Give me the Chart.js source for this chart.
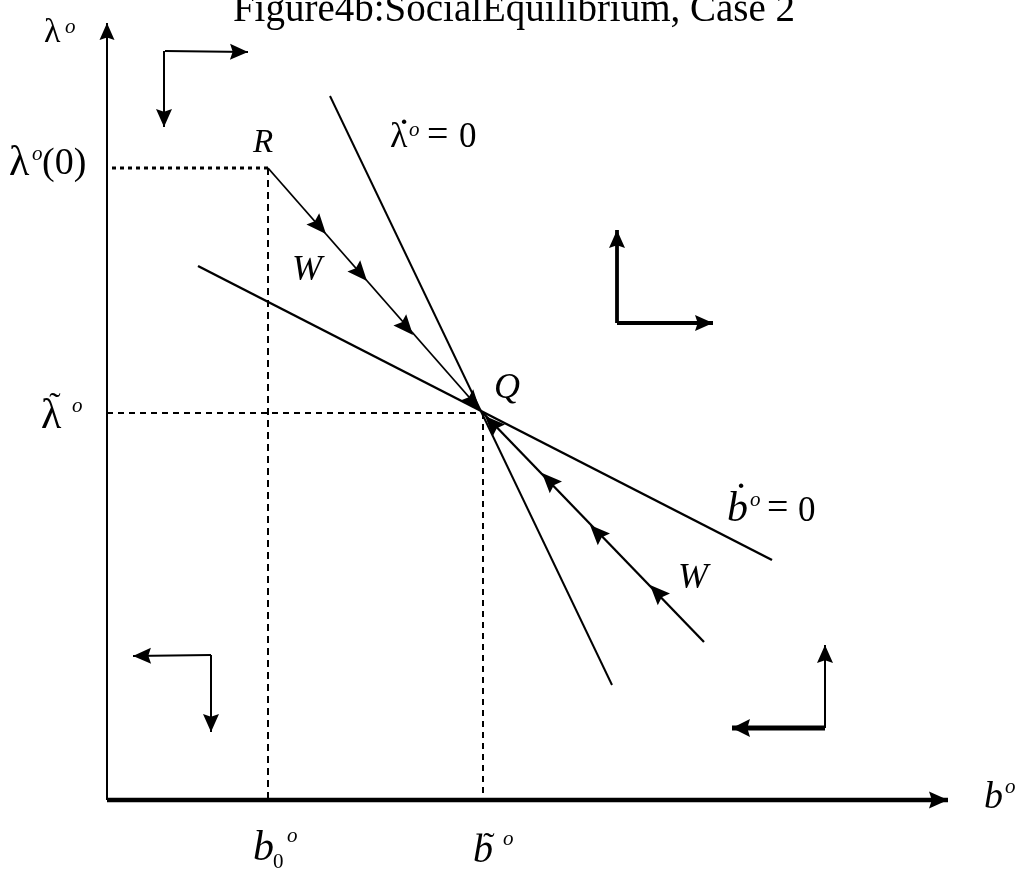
<!DOCTYPE html>
<html><head><meta charset="utf-8">
<script src="https://cdn.jsdelivr.net/npm/chart.js@4"></script>
<style>html,body{margin:0;padding:0;background:#fff;overflow:hidden}canvas{display:block}</style>
</head><body>
<canvas id="c" width="1019" height="875"></canvas>
<script>
// ---- diagram data (units: origin at the axes' intersection, y upwards) ----
const axisB = [[0,0],[841,0]];
const axisLambda = [[0,0],[0,777]];
const lambdaDotZero = [[223,704],[505,115]];
const bDotZero = [[91,534],[665,240]];
const saddleUpper = [[161,632],[376,387]];
const saddleLower = [[597,158],[376,387]];
const guideLambda0 = [[5,632],[161,632]];
const guideB0 = [[161,632],[161,0]];
const guideQh = [[0,387],[376,387]];
const guideQv = [[376,387],[376,0]];
const saddleUpperTips = [[219,566],[260,519],[306,465],[373,390]];
const saddleLowerTips = [[378,384],[435,327],[483,275],[543,215]];
// phase arrows: [corner, tip]
const phaseTLright = [[58,749],[141,748]];
const phaseTLdown = [[57,749],[57,673]];
const phaseMRup = [[510,477],[510,570]];
const phaseMRright = [[510,477],[606,477]];
const phaseBLleft = [[104,145],[26,144]];
const phaseBLdown = [[104,145],[104,68]];
const phaseBRup = [[718,72],[718,155]];
const phaseBRleft = [[718,72],[625,72]];

const titleText = 'Figure4b:SocialEquilibrium, Case 2';

const pts = a => a.map(p => ({x:p[0], y:p[1]}));
const SERIF = "'Liberation Serif','Times New Roman',serif";

function lineDs(arr, w, opts={}) {
  return Object.assign({type:'scatter', data:pts(arr), showLine:true, borderColor:'#000',
    backgroundColor:'#000', borderWidth:w, pointRadius:0, fill:false, tension:0,
    borderCapStyle:'butt', borderJoinStyle:'miter'}, opts);
}

const datasets = [
  lineDs(axisLambda, 2, {head:{len:17, hw:7.5}}),
  lineDs(axisB, 4.5, {head:{len:19, hw:8.5}}),
  lineDs(lambdaDotZero, 2),
  lineDs(bDotZero, 2.5),
  lineDs(saddleUpper, 1.8),
  lineDs(saddleLower, 2.3),
  lineDs(guideLambda0, 3.2, {borderDash:[4,4]}),
  lineDs(guideB0, 2, {borderDash:[7,5]}),
  lineDs(guideQh, 2, {borderDash:[6,5]}),
  lineDs(guideQv, 2, {borderDash:[6,5]}),
  lineDs(phaseTLright, 2, {head:{len:18, hw:8}}),
  lineDs(phaseTLdown, 2, {head:{len:18, hw:8}}),
  lineDs(phaseMRup, 3.8, {head:{len:18, hw:8}}),
  lineDs(phaseMRright, 3.8, {head:{len:18, hw:8}}),
  lineDs(phaseBLleft, 2, {head:{len:18, hw:8}}),
  lineDs(phaseBLdown, 2, {head:{len:18, hw:8}}),
  lineDs(phaseBRup, 2, {head:{len:18, hw:8}}),
  lineDs(phaseBRleft, 5, {head:{len:18, hw:9}}),
  {type:'scatter', data:pts(saddleUpperTips), pointRadius:0, showLine:false, tipsAlong:saddleUpper, tipHead:{len:20, hw:8.5}},
  {type:'scatter', data:pts(saddleLowerTips), pointRadius:0, showLine:false, tipsAlong:saddleLower, tipHead:{len:20, hw:8.5}}
];

// text items: position in diagram units
const labels = [
  {t:titleText, x:407, y:779, f:"39px "+SERIF, a:'center'},
  {t:'λ', x:-63, y:758, f:"34px "+SERIF},
  {t:'o', x:-42, y:767, f:"italic 21px "+SERIF},
  {t:'λ', x:-98, y:625, f:"42px "+SERIF},
  {t:'o', x:-75, y:640, f:"italic 21px "+SERIF},
  {t:'(0)', x:-65, y:626, f:"38px "+SERIF},
  {t:'R', x:146, y:648, f:"italic 33px "+SERIF},
  {t:'λ', x:283, y:653, f:"36px "+SERIF},
  {t:'·', x:297, y:666, f:"38px "+SERIF, a:'center'},
  {t:'o', x:302, y:664, f:"italic 21px "+SERIF},
  {t:'=', x:320, y:654, f:"38px "+SERIF},
  {t:'0', x:352, y:653, f:"35px "+SERIF},
  {t:'W', x:185, y:520, f:"italic 36px "+SERIF},
  {t:'Q', x:387, y:402, f:"italic 36px "+SERIF},
  {t:'λ', x:-66, y:372, f:"42px "+SERIF},
  {t:'˜', x:-52, y:384, f:"34px "+SERIF, a:'center'},
  {t:'o', x:-35, y:388, f:"italic 21px "+SERIF},
  {t:'b', x:620, y:279, f:"italic 42px "+SERIF},
  {t:'·', x:634, y:302, f:"38px "+SERIF, a:'center'},
  {t:'o', x:643, y:294, f:"italic 21px "+SERIF},
  {t:'=', x:660, y:281, f:"38px "+SERIF},
  {t:'0', x:691, y:279, f:"35px "+SERIF},
  {t:'W', x:571, y:212, f:"italic 36px "+SERIF},
  {t:'b', x:877, y:-8, f:"italic 38px "+SERIF},
  {t:'o', x:898, y:7, f:"italic 21px "+SERIF},
  {t:'b', x:146, y:-60, f:"italic 42px "+SERIF},
  {t:'0', x:166, y:-68, f:"21px "+SERIF},
  {t:'o', x:180, y:-42, f:"italic 21px "+SERIF},
  {t:'b', x:366, y:-62, f:"italic 40px "+SERIF},
  {t:'˜', x:382, y:-56, f:"34px "+SERIF, a:'center'},
  {t:'o', x:396, y:-45, f:"italic 21px "+SERIF}
];

function drawHead(ctx, from, to, len, hw) {
  const ang = Math.atan2(to.y - from.y, to.x - from.x);
  ctx.save();
  ctx.translate(to.x, to.y);
  ctx.rotate(ang);
  ctx.beginPath();
  ctx.moveTo(0, 0);
  ctx.lineTo(-len, -hw);
  ctx.lineTo(-len*0.85, 0);
  ctx.lineTo(-len, hw);
  ctx.closePath();
  ctx.fillStyle = '#000';
  ctx.fill();
  ctx.restore();
}

const diagramPlugin = {
  id: 'diagram',
  afterDatasetsDraw(chart) {
    const ctx = chart.ctx, sx = chart.scales.x, sy = chart.scales.y;
    const P = p => ({x: sx.getPixelForValue(p.x), y: sy.getPixelForValue(p.y)});
    chart.data.datasets.forEach(ds => {
      if (ds.head) {
        const d = ds.data;
        drawHead(ctx, P(d[d.length-2]), P(d[d.length-1]), ds.head.len, ds.head.hw);
      }
      if (ds.tipsAlong) {
        const a = P({x:ds.tipsAlong[0][0], y:ds.tipsAlong[0][1]});
        const b = P({x:ds.tipsAlong[1][0], y:ds.tipsAlong[1][1]});
        ds.data.forEach(t => {
          const tp = P(t);
          drawHead(ctx, {x: tp.x - (b.x - a.x), y: tp.y - (b.y - a.y)}, tp, ds.tipHead.len, ds.tipHead.hw);
        });
      }
    });
    ctx.save();
    ctx.fillStyle = '#000';
    ctx.textBaseline = 'alphabetic';
    labels.forEach(l => {
      ctx.font = l.f;
      ctx.textAlign = l.a || 'left';
      const p = P({x:l.x, y:l.y});
      ctx.fillText(l.t, p.x, p.y);
    });
    ctx.restore();
  }
};

new Chart(document.getElementById('c'), {
  type: 'scatter',
  data: {datasets},
  options: {
    responsive: false,
    devicePixelRatio: 1,
    animation: false,
    events: [],
    layout: {padding: 0},
    scales: {
      x: {type:'linear', min:-107, max:912, display:false},
      y: {type:'linear', min:-75, max:800, display:false}
    },
    plugins: {legend:{display:false}, tooltip:{enabled:false}, title:{display:false}}
  },
  plugins: [diagramPlugin]
});
</script>
</body></html>
